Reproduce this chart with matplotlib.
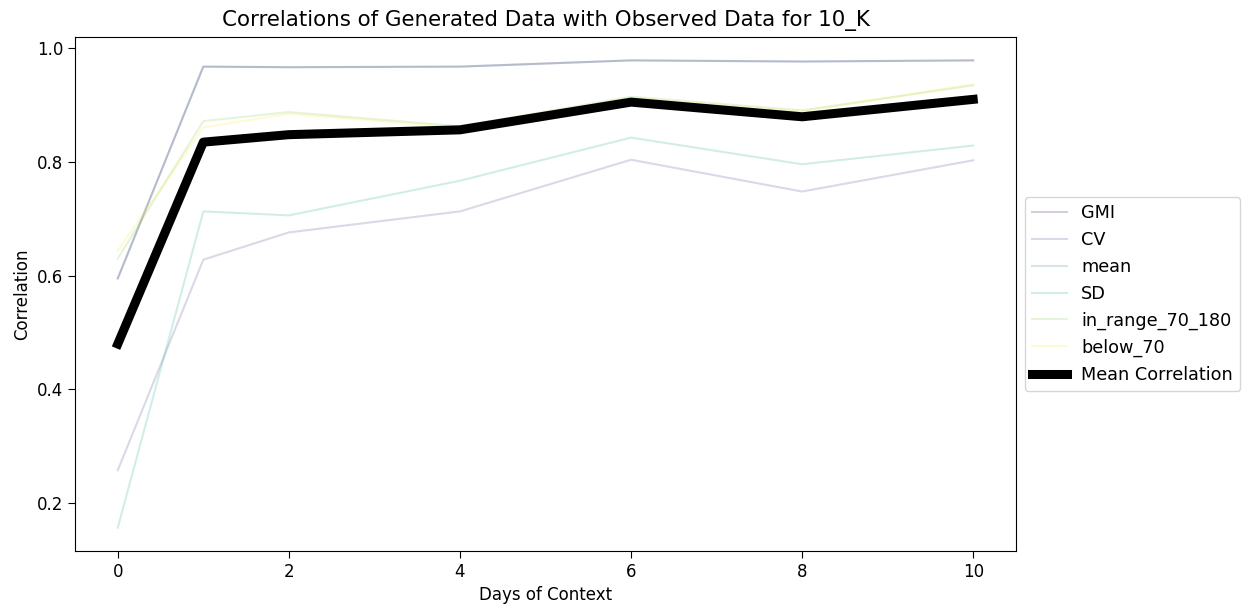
import numpy as np
import matplotlib
matplotlib.use("Agg")
import matplotlib.pyplot as plt

days = [0, 1, 2, 4, 6, 8, 10]

metric_names = ["GMI", "CV", "mean", "SD", "in_range_70_180", "below_70"]
gmi = [0.595, 0.968, 0.967, 0.968, 0.979, 0.977, 0.979]
cv = [0.257, 0.628, 0.676, 0.713, 0.804, 0.748, 0.803]
mean = [0.595, 0.968, 0.967, 0.968, 0.979, 0.977, 0.979]
sd = [0.156, 0.713, 0.706, 0.767, 0.843, 0.796, 0.829]
in_range_70_180 = [0.630, 0.872, 0.888, 0.863, 0.915, 0.891, 0.935]
below_70 = [0.644, 0.861, 0.885, 0.861, 0.913, 0.889, 0.937]

series = [gmi, cv, mean, sd, in_range_70_180, below_70]
mean_corr = np.mean(np.array(series), axis=0)

fig = plt.figure(figsize=(12.44, 6.07), dpi=100)
ax = fig.add_axes([0.0603, 0.0923, 0.7564, 0.8467])

colors = plt.cm.viridis(np.linspace(0, 1, len(metric_names)))
for name, vals, c in zip(metric_names, series, colors):
    ax.plot(days, vals, color=c, alpha=0.2, lw=1.5, label=name)
ax.plot(days, mean_corr, color="black", lw=6.5, label="Mean Correlation")

ax.set_title("Correlations of Generated Data with Observed Data for 10_K", fontsize=15.4, pad=8)
ax.set_xlabel("Days of Context", fontsize=12)
ax.set_ylabel("Correlation", fontsize=12)
ax.tick_params(labelsize=12, length=5)
ax.set_xticks([0, 2, 4, 6, 8, 10])
ax.set_yticks([0.2, 0.4, 0.6, 0.8, 1.0])

ax.legend(loc="center left", bbox_to_anchor=(1.0, 0.5), fontsize=12.7)

fig.savefig("out.png", dpi=100)
